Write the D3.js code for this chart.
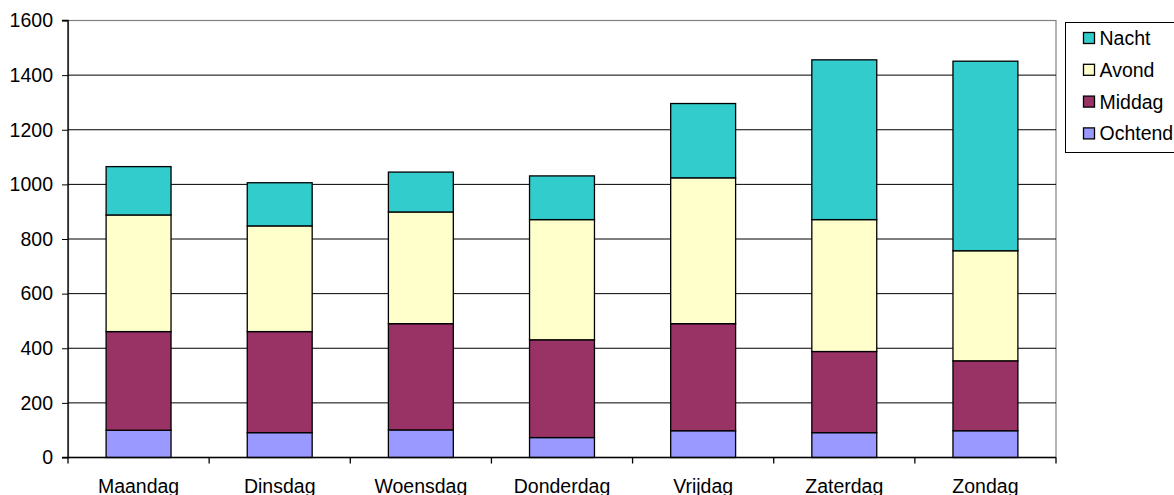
<!DOCTYPE html>
<html>
<head>
<meta charset="utf-8">
<script src="https://cdn.jsdelivr.net/npm/d3@7"></script>
<style>
  html, body { margin: 0; padding: 0; background: #fff; }
  svg { display: block; }
  text { font-family: "Liberation Sans", Arial, sans-serif; fill: #000; }
</style>
</head>
<body>
<svg id="chart" width="1174" height="495"></svg>
<script>
const days = ["Maandag", "Dinsdag", "Woensdag", "Donderdag", "Vrijdag", "Zaterdag", "Zondag"];
const seriesNames = ["Ochtend", "Middag", "Avond", "Nacht"];
const ochtend = [100, 91, 101, 73, 98, 91, 98];
const middag  = [361, 370, 389, 358, 392, 297, 256];
const avond   = [427, 387, 409, 440, 534, 483, 403];
const nacht   = [177, 158, 146, 160, 272, 585, 694];
const yTicks = [0, 200, 400, 600, 800, 1000, 1200, 1400, 1600];
const colors = ["#9999FF", "#993366", "#FFFFCC", "#33CCCC"];

(function () {
const svg = d3.select("#chart");
const pLeft = 68, pRight = 1056, pTop = 20.5, pBottom = 457.5;
const fontSize = 19.5;

const rows = days.map((d, i) => ({ day: d, Ochtend: ochtend[i], Middag: middag[i], Avond: avond[i], Nacht: nacht[i] }));
const stack = d3.stack().keys(seriesNames)(rows);

const x = d3.scaleBand().domain(days).range([pLeft, pRight]).paddingInner(0.54).paddingOuter(0.27);
const y = d3.scaleLinear().domain([0, 1600]).range([pBottom, pTop]);
const color = d3.scaleOrdinal().domain(seriesNames).range(colors);

// Plot area border (gray)
svg.append("rect")
  .attr("x", pLeft + 0.5).attr("y", pTop)
  .attr("width", pRight - pLeft - 0.5).attr("height", pBottom - pTop)
  .attr("fill", "none").attr("stroke", "#808080").attr("stroke-width", 1.2);

// Gridlines
svg.append("g").selectAll("line").data(yTicks.filter(t => t > 0 && t < 1600)).join("line")
  .attr("x1", pLeft).attr("x2", pRight)
  .attr("y1", d => y(d)).attr("y2", d => y(d))
  .attr("stroke", "#000").attr("stroke-width", 1);

// Bars
svg.append("g").selectAll("g").data(stack).join("g")
  .attr("fill", d => color(d.key))
  .selectAll("rect").data(d => d).join("rect")
  .attr("x", d => x(d.data.day))
  .attr("y", d => y(d[1]))
  .attr("width", x.bandwidth())
  .attr("height", d => y(d[0]) - y(d[1]))
  .attr("stroke", "#000").attr("stroke-width", 1.3);

// Y axis
const yAxis = d3.axisLeft(y).tickValues(yTicks).tickSize(6).tickPadding(9).tickFormat(d3.format("d"));
const gy = svg.append("g").attr("transform", `translate(${pLeft},0)`).call(yAxis);
gy.select(".domain").attr("stroke", "#000").attr("stroke-width", 1.3).attr("d", `M-6,${pTop}H0V${pBottom}H-6`);
gy.selectAll(".tick line").attr("stroke", "#000");
gy.selectAll("text").style("font-size", fontSize + "px").style("font-family", '"Liberation Sans", Arial, sans-serif').attr("fill", "#000");

// X axis with ticks at band boundaries
const gx = svg.append("g").attr("transform", `translate(0,${pBottom})`);
gx.append("line").attr("x1", pLeft).attr("x2", pRight).attr("y1", 0).attr("y2", 0)
  .attr("stroke", "#000").attr("stroke-width", 1.3);
const boundaries = days.map(d => x(d) - x.step() * x.paddingInner() / 2).concat([pRight]);
gx.selectAll("line.tk").data(boundaries).join("line").attr("class", "tk")
  .attr("x1", d => d).attr("x2", d => d).attr("y1", 0).attr("y2", 6)
  .attr("stroke", "#000").attr("stroke-width", 1.3);
gx.selectAll("text").data(days).join("text")
  .attr("x", d => x(d) + x.bandwidth() / 2)
  .attr("y", 35.5)
  .attr("text-anchor", "middle")
  .style("font-size", fontSize + "px")
  .text(d => d);

// Legend
const lg = svg.append("g");
lg.append("rect").attr("x", 1065.5).attr("y", 22.5).attr("width", 140).attr("height", 130)
  .attr("fill", "#fff").attr("stroke", "#000").attr("stroke-width", 1);
const legendOrder = seriesNames.slice().reverse();
const li = lg.selectAll("g.li").data(legendOrder).join("g").attr("class", "li")
  .attr("transform", (d, i) => `translate(0,${38 + i * 31.8})`);
li.append("rect").attr("x", 1083.5).attr("y", -5.5).attr("width", 11).attr("height", 11)
  .attr("fill", d => color(d)).attr("stroke", "#000").attr("stroke-width", 1.3);
li.append("text").attr("x", 1099.5).attr("y", 7)
  .style("font-size", fontSize + "px").text(d => d);
})();
</script>
</body>
</html>
